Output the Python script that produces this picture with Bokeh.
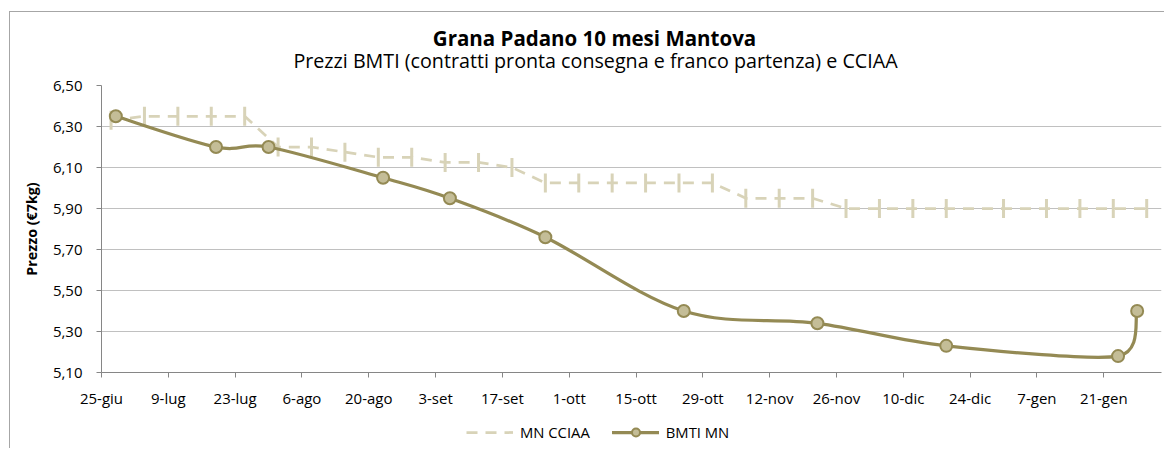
from datetime import datetime
import numpy as np
from bokeh.plotting import figure
from bokeh.layouts import column
from bokeh.models import (ColumnDataSource, Range1d, FixedTicker, Legend, LegendItem,
                          Label, InlineStyleSheet)
from bokeh.embed import file_html
from bokeh.resources import INLINE

# ---------------- data ----------------
title_text = "Grana Padano 10 mesi Mantova"
subtitle_text = "Prezzi BMTI (contratti pronta consegna e franco partenza) e CCIAA"
y_axis_title = "Prezzo (€7kg)"

cciaa_dates = ["2012-06-27", "2012-07-04", "2012-07-11", "2012-07-18", "2012-07-25",
               "2012-08-01", "2012-08-08", "2012-08-15", "2012-08-22", "2012-08-29",
               "2012-09-05", "2012-09-12", "2012-09-19", "2012-09-26", "2012-10-03",
               "2012-10-10", "2012-10-17", "2012-10-24", "2012-10-31", "2012-11-07",
               "2012-11-14", "2012-11-21", "2012-11-28", "2012-12-05", "2012-12-12",
               "2012-12-19", "2012-12-31", "2013-01-09", "2013-01-16", "2013-01-23",
               "2013-01-30"]
cciaa_prices = [6.33, 6.35, 6.35, 6.35, 6.35,
                6.20, 6.20, 6.175, 6.15, 6.15,
                6.125, 6.125, 6.10, 6.025, 6.025,
                6.025, 6.025, 6.025, 6.025, 5.95,
                5.95, 5.95, 5.90, 5.90, 5.90,
                5.90, 5.90, 5.90, 5.90, 5.90,
                5.90]

bmti_dates = ["2012-06-28", "2012-07-19", "2012-07-30", "2012-08-23", "2012-09-06",
              "2012-09-26", "2012-10-25", "2012-11-22", "2012-12-19", "2013-01-24",
              "2013-01-28"]
bmti_prices = [6.35, 6.20, 6.20, 6.05, 5.95, 5.76, 5.40, 5.34, 5.23, 5.18, 5.40]

x_start_date = "2012-06-25"
x_end_date = "2013-02-02"
x_tick_dates = ["2012-06-25", "2012-07-09", "2012-07-23", "2012-08-06", "2012-08-20",
                "2012-09-03", "2012-09-17", "2012-10-01", "2012-10-15", "2012-10-29",
                "2012-11-12", "2012-11-26", "2012-12-10", "2012-12-24", "2013-01-07",
                "2013-01-21"]
x_tick_labels = ["25-giu", "9-lug", "23-lug", "6-ago", "20-ago", "3-set", "17-set", "1-ott",
                 "15-ott", "29-ott", "12-nov", "26-nov", "10-dic", "24-dic", "7-gen", "21-gen"]
y_ticks = [5.10, 5.30, 5.50, 5.70, 5.90, 6.10, 6.30, 6.50]
y_tick_labels = ["5,10", "5,30", "5,50", "5,70", "5,90", "6,10", "6,30", "6,50"]

# ---------------- helpers ----------------
BASE = datetime.strptime(x_start_date, "%Y-%m-%d")


def to_days(s):
    return (datetime.strptime(s, "%Y-%m-%d") - BASE).days


FONT = "Open Sans"
OLIVE = "#948A54"
OLIVE_FILL = "#C4BD97"
LIGHT = "#D8D3B8"
W = 1164
FRAME_W = 1060
FRAME_H = 287
x_end = (datetime.strptime(x_end_date, "%Y-%m-%d") - BASE).days + 0.1
y_lo, y_hi = y_ticks[0], y_ticks[-1]

border_css = InlineStyleSheet(css="""
:host::after {
  content: ""; position: absolute; left: 9px; top: 11px; right: 0px; bottom: 0px;
  border-left: 1px solid #A6A6A6; border-top: 1px solid #A6A6A6;
  pointer-events: none; z-index: 10;
}
""")

# ---------------- title strip (frame is aligned with the chart frame) ----------------
tf = figure(width=W, height=75, output_backend="svg", toolbar_location=None,
            title_location=None, x_axis_location=None, y_axis_location=None,
            x_range=Range1d(0, 1), y_range=Range1d(0, 1),
            min_border_left=0, min_border_right=0, min_border_top=0, min_border_bottom=0)
tf.grid.visible = False
tf.outline_line_color = None
tf.background_fill_color = "white"
tf.border_fill_color = "white"
tf.add_layout(Label(x=493, y=37.5, x_units="screen", y_units="screen", text=title_text,
                    text_align="center", text_baseline="middle", text_font=FONT,
                    text_font_size="20.5px", text_font_style="bold", text_color="#000000"))
tf.add_layout(Label(x=494, y=15, x_units="screen", y_units="screen", text=subtitle_text,
                    text_align="center", text_baseline="middle", text_font=FONT,
                    text_font_size="19.7px", text_color="#000000"))

# ---------------- main chart ----------------
p = figure(width=W, height=339, output_backend="svg", toolbar_location=None,
           title_location=None,
           x_range=Range1d(0, x_end), y_range=Range1d(y_lo, y_hi),
           min_border_left=101, min_border_right=3, min_border_top=10, min_border_bottom=42)
p.outline_line_color = None
p.background_fill_color = "white"
p.border_fill_color = "white"

p.xaxis.ticker = FixedTicker(ticks=[to_days(d) for d in x_tick_dates])
p.xaxis.major_label_overrides = {to_days(d): l for d, l in zip(x_tick_dates, x_tick_labels)}
p.yaxis.ticker = FixedTicker(ticks=y_ticks)
p.yaxis.major_label_overrides = dict(zip(y_ticks, y_tick_labels))
for ax in (p.xaxis[0], p.yaxis[0]):
    ax.axis_line_color = "#868686"
    ax.major_tick_line_color = "#868686"
    ax.major_tick_in = 0
    ax.major_tick_out = 5
    ax.minor_tick_line_color = None
    ax.major_label_text_font = FONT
    ax.major_label_text_font_size = "15px"
    ax.major_label_text_color = "#000000"
p.xaxis.major_label_standoff = 10
p.yaxis.major_label_standoff = 14
p.yaxis.axis_label = y_axis_title
p.yaxis.axis_label_text_font = FONT
p.yaxis.axis_label_text_font_style = "bold"
p.yaxis.axis_label_text_font_size = "14.3px"
p.yaxis.axis_label_text_color = "#000000"
p.yaxis.axis_label_standoff = 9

p.xgrid.visible = False
p.ygrid.grid_line_color = "#C0C0C0"
p.ygrid.grid_line_width = 1

# MN CCIAA: dashed straight line with vertical bar markers
cx = [to_days(d) for d in cciaa_dates]
src_c = ColumnDataSource(dict(x=cx, y=cciaa_prices))
c_line = dict(line_color=LIGHT, line_width=2.75, line_dash="11 8")
p.line("x", "y", source=src_c, **c_line)
p.scatter("x", "y", source=src_c, marker="dash", angle=np.pi / 2, size=19,
          line_color=LIGHT, line_width=3)

# BMTI MN: smoothed line (Bezier segments through the data points)
bx = np.array([to_days(d) for d in bmti_dates], dtype=float)
by = np.array(bmti_prices, dtype=float)
kx = FRAME_W / x_end
ky = FRAME_H / (y_hi - y_lo)
P = np.column_stack([bx * kx, by * ky])
n = len(P)
out_cp = np.zeros_like(P)
in_cp = np.zeros_like(P)
for i in range(n):
    if i == 0:
        t = P[1] - P[0]
        f = 1 / 6
    elif i == n - 1:
        t = P[-1] - P[-2]
        f = 1 / 6
    else:
        t = P[i + 1] - P[i - 1]
        d02 = np.hypot(*t)
        d01 = np.hypot(*(P[i] - P[i - 1]))
        d12 = np.hypot(*(P[i + 1] - P[i]))
        f = 1 / 6
        if d02 * f > d01 / 2 or d02 * f > d12 / 2:
            f = min(d01, d12) / (2 * d02)
    out_cp[i] = P[i] + f * t
    in_cp[i] = P[i] - f * t

src_b = ColumnDataSource(dict(
    x0=bx[:-1], y0=by[:-1], x1=bx[1:], y1=by[1:],
    cx0=out_cp[:-1, 0] / kx, cy0=out_cp[:-1, 1] / ky,
    cx1=in_cp[1:, 0] / kx, cy1=in_cp[1:, 1] / ky))
b_line = dict(line_color=OLIVE, line_width=3.25, line_cap="round")
b_pts = dict(marker="circle", size=12, fill_color=OLIVE_FILL, line_color=OLIVE, line_width=2)
p.bezier(x0="x0", y0="y0", x1="x1", y1="y1", cx0="cx0", cy0="cy0", cx1="cx1", cy1="cy1",
         source=src_b, **b_line)
src_bp = ColumnDataSource(dict(x=bx, y=by))
p.scatter("x", "y", source=src_bp, **b_pts)

# ---------------- legend strip ----------------
# its renderers share the series data, which lies outside this strip's ranges,
# so only the legend samples show
lf = figure(width=W, height=34, output_backend="svg", toolbar_location=None,
            x_range=Range1d(-1, 0), y_range=Range1d(-1, 0),
            min_border_left=0, min_border_right=0, min_border_top=0, min_border_bottom=0)
lf.axis.visible = False
lf.grid.visible = False
lf.outline_line_color = None
lf.background_fill_color = "white"
lf.border_fill_color = "white"
lc = lf.line("x", "y", source=src_c, **c_line)
lb = lf.bezier(x0="x0", y0="y0", x1="x1", y1="y1", cx0="cx0", cy0="cy0", cx1="cx1",
               cy1="cy1", source=src_b, **b_line)
lp = lf.scatter("x", "y", source=src_bp, **b_pts)
legend = Legend(items=[LegendItem(label="MN CCIAA", renderers=[lc]),
                       LegendItem(label="BMTI MN", renderers=[lb, lp])],
                orientation="horizontal", location=(365, 6), margin=0,
                label_text_font=FONT, label_text_font_size="14.8px", label_text_color="#000000",
                glyph_width=47, glyph_height=20, label_standoff=7, spacing=22, padding=5,
                border_line_color=None, background_fill_alpha=0)
lf.add_layout(legend)

layout = column(tf, p, lf, spacing=0, stylesheets=[border_css])
open("out.html", "w").write(file_html(layout, INLINE))
